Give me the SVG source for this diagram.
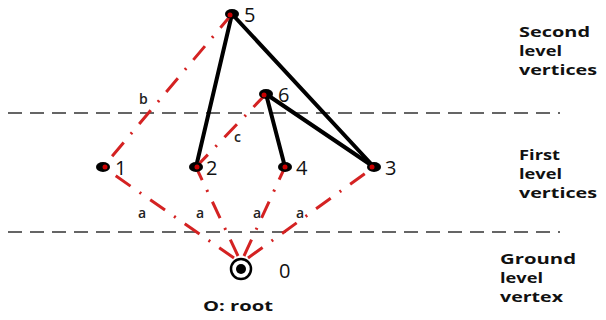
<svg xmlns="http://www.w3.org/2000/svg" width="606" height="320" viewBox="0 0 606 320">
<style>
.lvl{stroke:#333;stroke-width:1.6;stroke-dasharray:14 8;fill:none}
.blk{stroke:#000;stroke-width:4;fill:none;stroke-linecap:round}
.red{stroke:#d42222;stroke-width:3;fill:none;stroke-dasharray:18 11 2 11}
.num{font-family:"Open Sans","DejaVu Sans",sans-serif;font-size:20px;fill:#111}
.lab{font-family:"Open Sans","DejaVu Sans",sans-serif;font-size:14px;font-weight:600;fill:#222}
.side{font-family:"Open Sans","DejaVu Sans",sans-serif;font-size:13.5px;font-weight:bold;fill:#111}
</style>
<rect width="606" height="320" fill="#fff"/>
<line class="lvl" x1="8" y1="113" x2="560" y2="113"/>
<line class="lvl" x1="8" y1="232" x2="560" y2="232"/>
<g id="connectors">
<line class="blk" x1="232" y1="14" x2="196" y2="167"/>
<line class="blk" x1="232" y1="14" x2="374" y2="167"/>
<line class="blk" x1="266" y1="94" x2="285" y2="167"/>
<line class="blk" x1="266" y1="94" x2="374" y2="167"/>
<line class="red" x1="232" y1="14" x2="103" y2="167"/>
<line class="red" x1="266" y1="94" x2="196" y2="167"/>
<line class="red" x1="234" y1="258" x2="103" y2="167"/>
<line class="red" x1="238" y1="256" x2="196" y2="167"/>
<line class="red" x1="244" y1="256" x2="285" y2="167"/>
<line class="red" x1="248" y1="258" x2="374" y2="167"/>
<text class="lab" x="139" y="104">b</text>
<text class="lab" x="234" y="142">c</text>
<text class="lab" x="138" y="218">a</text>
<text class="lab" x="196" y="218">a</text>
<text class="lab" x="253" y="218">a</text>
<text class="lab" x="296" y="218">a</text>
</g>
<g id="n5"><ellipse cx="232" cy="14" rx="7" ry="5" fill="#000"/><circle cx="230" cy="15" r="2.5" fill="#c00"/><text class="num" x="244" y="22">5</text></g>
<g id="n6"><ellipse cx="266" cy="94" rx="7" ry="5" fill="#000"/><circle cx="264" cy="95" r="2.5" fill="#c00"/><text class="num" x="278" y="102">6</text></g>
<g id="n1"><ellipse cx="103" cy="167" rx="7" ry="5" fill="#000"/><circle cx="105" cy="167" r="2.5" fill="#c00"/><text class="num" x="115" y="175">1</text></g>
<g id="n2"><ellipse cx="196" cy="167" rx="7" ry="5" fill="#000"/><circle cx="197" cy="167" r="2.5" fill="#c00"/><text class="num" x="206" y="175">2</text></g>
<g id="n4"><ellipse cx="285" cy="167" rx="7" ry="5" fill="#000"/><circle cx="285" cy="167" r="2.5" fill="#c00"/><text class="num" x="296" y="175">4</text></g>
<g id="n3"><ellipse cx="374" cy="167" rx="7" ry="5" fill="#000"/><circle cx="372" cy="167" r="2.5" fill="#c00"/><text class="num" x="385" y="175">3</text></g>
<g id="n0"><circle cx="241" cy="269" r="10" fill="#fff" stroke="#000" stroke-width="2.5"/><circle cx="241" cy="269" r="5" fill="#000"/><text class="num" x="279" y="278">0</text>
<text class="side" x="203" y="311" textLength="70" lengthAdjust="spacingAndGlyphs">O: root</text></g>
<g id="legend">
<text class="side" x="519" y="37" textLength="71" lengthAdjust="spacingAndGlyphs">Second</text>
<text class="side" x="519" y="56" textLength="43" lengthAdjust="spacingAndGlyphs">level</text>
<text class="side" x="519" y="75" textLength="78" lengthAdjust="spacingAndGlyphs">vertices</text>
<text class="side" x="519" y="160" textLength="41" lengthAdjust="spacingAndGlyphs">First</text>
<text class="side" x="519" y="179" textLength="43" lengthAdjust="spacingAndGlyphs">level</text>
<text class="side" x="519" y="198" textLength="78" lengthAdjust="spacingAndGlyphs">vertices</text>
<text class="side" x="500" y="264" textLength="76" lengthAdjust="spacingAndGlyphs">Ground</text>
<text class="side" x="500" y="283" textLength="43" lengthAdjust="spacingAndGlyphs">level</text>
<text class="side" x="500" y="302" textLength="63" lengthAdjust="spacingAndGlyphs">vertex</text>
</g>
</svg>
